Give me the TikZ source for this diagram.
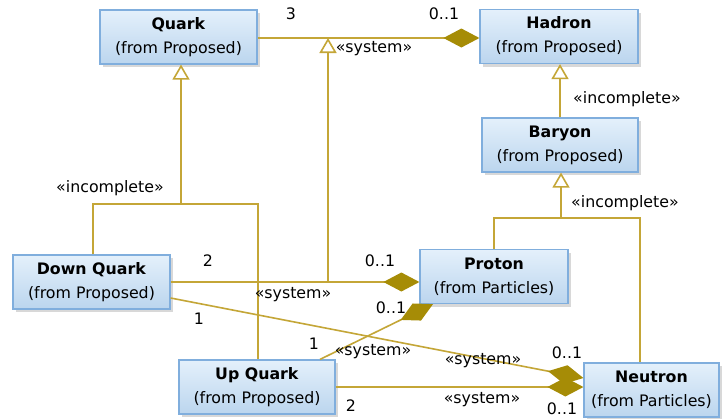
\documentclass[tikz,border=0pt]{standalone}
\usepackage{fontspec}
\setmainfont{DejaVu Sans}
\usetikzlibrary{arrows.meta,shadows,calc}
\definecolor{boxtop}{HTML}{E4F0FB}
\definecolor{boxbot}{HTML}{BBD5EE}
\definecolor{boxline}{HTML}{80AEDD}
\definecolor{assoc}{HTML}{C4A637}
\definecolor{dia}{HTML}{A68C06}
\begin{document}
\begin{tikzpicture}[x=1pt,y=-1pt,
 cls/.style={draw=boxline, line width=1.2pt, top color=boxtop, bottom color=boxbot,
   minimum height=54pt, inner sep=0pt, align=center,
   font=\fontsize{15.8}{24}\selectfont, text=black,
   drop shadow={shadow xshift=3pt, shadow yshift=-3pt, fill=black!25, opacity=0.6}},
 conn/.style={draw=assoc, line width=1.6pt},
 comp/.style={conn, -{Diamond[length=36pt,width=19pt,color=dia,fill=dia]}},
 gen/.style={conn, -{Triangle[open,length=15pt,width=17pt,fill=white]}},
 lbl/.style={font=\fontsize{15.8}{18}\selectfont, inner sep=0pt, text=black}]
\useasboundingbox (0,0) rectangle (722,418);
\fill[white] (0,0) rectangle (722,418);

% classes
\node[cls, minimum width=157pt] (qk) at (178.5,37) {\textbf{Quark}\\(from Proposed)};
\node[cls, minimum width=158pt] (hd) at (559,36.5) {\textbf{Hadron}\\(from Proposed)};
\node[cls, minimum width=156pt] (br) at (560,145) {\textbf{Baryon}\\(from Proposed)};
\node[cls, minimum width=157pt] (dq) at (91.5,282) {\textbf{Down Quark}\\(from Proposed)};
\node[cls, minimum width=156pt] (uq) at (257,387) {\textbf{Up Quark}\\(from Proposed)};
\node[cls, minimum width=148pt] (pr) at (494,276.5) {\textbf{Proton}\\(from Particles)};
\node[cls, minimum width=135pt] (nt) at (651.5,390) {\textbf{Neutron}\\(from Particles)};

% associations
\draw[comp] (qk.east |- 0,38) -- (hd.west |- 0,38);
\draw[comp] (dq.east |- 0,282) -- (pr.west |- 0,282);
\draw[comp] (dq.east |- 0,298) -- (nt.west |- 0,378);
\draw[comp] (uq.north -| 320,0) -- (pr.south -| 433,0);
\draw[comp] (uq.east |- 0,387) -- (nt.west |- 0,387);

% association generalization
\coordinate (ag) at (328,282);
\coordinate (agtop) at (328,38);
\draw[gen] (ag) -- (agtop);

% generalization trees
\coordinate (qj) at (181,204);
\draw[gen] (qj) -- (qk.south -| qj);
\draw[conn] (dq.north -| 93,0) |- (qj) -| (uq.north -| 258,0);

\draw[gen] (br.north -| 560,0) -- (hd.south -| 560,0);

\coordinate (bj) at (561,218);
\draw[gen] (bj) -- (br.south -| bj);
\draw[conn] (pr.north -| 494,0) |- (bj) -| (nt.north -| 640,0);

% labels
\node[lbl] (l1) at (291,14) {3};
\node[lbl] (l2) at (444,14) {0..1};
\node[lbl] (l3) at (374,49) {«system»};
\node[lbl] (l4) at (110,188) {«incomplete»};
\node[lbl] (l5) at (627,99) {«incomplete»};
\node[lbl] (l6) at (625,203) {«incomplete»};
\node[lbl] (l7) at (208,261) {2};
\node[lbl] (l8) at (380,261) {0..1};
\node[lbl] (l9) at (293,295) {«system»};
\node[lbl] (l10) at (199,319) {1};
\node[lbl] (l11) at (567,353) {0..1};
\node[lbl] (l12) at (483,361) {«system»};
\node[lbl] (l13) at (314,344) {1};
\node[lbl] (l14) at (391,308) {0..1};
\node[lbl] (l15) at (373,352) {«system»};
\node[lbl] (l16) at (351,406) {2};
\node[lbl] (l17) at (562,409) {0..1};
\node[lbl] (l18) at (482,400) {«system»};
\end{tikzpicture}
\end{document}
